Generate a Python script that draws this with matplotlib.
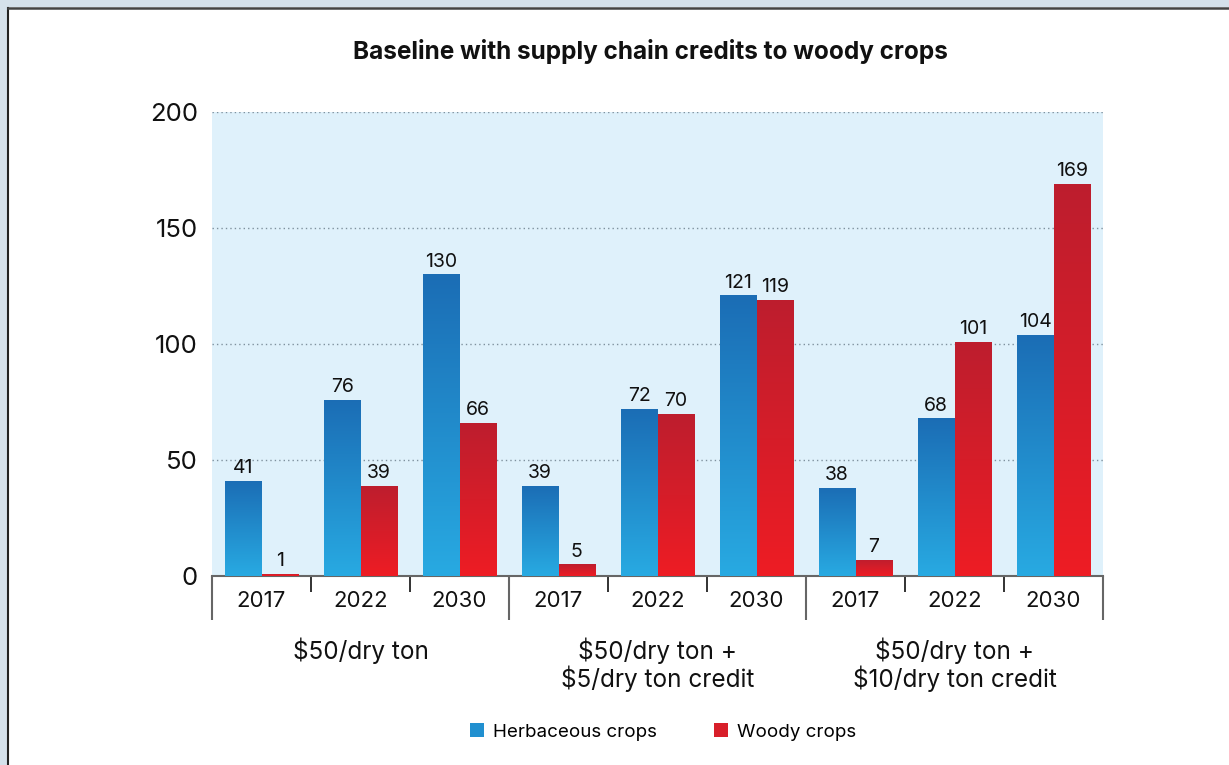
import matplotlib
matplotlib.use("Agg")
import matplotlib.pyplot as plt
import numpy as np
from matplotlib.colors import LinearSegmentedColormap
from matplotlib.patches import Rectangle, Patch
import matplotlib.transforms as mtransforms

plt.rcParams['font.family'] = ['Inter', 'DejaVu Sans']

title = "Baseline with supply chain credits to woody crops"
years = ["2017", "2022", "2030"]
groups = ["$50/dry ton", "$50/dry ton +\n$5/dry ton credit", "$50/dry ton +\n$10/dry ton credit"]
herbaceous = [41, 76, 130, 39, 72, 121, 38, 68, 104]
woody = [1, 39, 66, 5, 70, 119, 7, 101, 169]
series_names = ["Herbaceous crops", "Woody crops"]
yticks = [0, 50, 100, 150, 200]

blue_top, blue_bot = "#1b6db5", "#28aae2"
red_top, red_bot = "#bd1e2e", "#ee1c24"

fig = plt.figure(figsize=(12.29, 7.65), dpi=100)
# outer frame
fig.patches.append(Rectangle((0, 0), 1, 1, transform=fig.transFigure, facecolor="#d5e1eb", edgecolor="none", zorder=-10))
fig.patches.append(Rectangle((7/1229, 0), 1, 1 - 7/765, transform=fig.transFigure, facecolor="white", edgecolor="none", zorder=-9))
fig.lines.append(plt.Line2D([7.5/1229, 7.5/1229], [0, 1 - 7.5/765], transform=fig.transFigure, color="#222222", lw=1.5))
fig.lines.append(plt.Line2D([7.5/1229, 1], [1 - 7.5/765, 1 - 7.5/765], transform=fig.transFigure, color="#444444", lw=1.8))

ax = fig.add_axes([212/1229, 1 - 576/765, (1103 - 212)/1229, (576 - 112)/765])
ax.set_facecolor("#dff1fb")

n = len(herbaceous)
x = np.arange(n)
w = 0.37
off = 0.185

def grad_bars(xs, vals, ctop, cbot):
    bars = ax.bar(xs, vals, width=w, color="none", edgecolor="none", zorder=3)
    cmap = LinearSegmentedColormap.from_list("g", [cbot, ctop])
    grad = np.linspace(0, 1, 256).reshape(-1, 1)
    for b in bars:
        x0, y0 = b.get_x(), b.get_y()
        im = ax.imshow(grad, cmap=cmap, aspect="auto", origin="lower",
                       extent=[x0, x0 + b.get_width(), y0, y0 + b.get_height()], zorder=3)
        im.set_clip_path(b)
    return bars

bh = grad_bars(x - off, herbaceous, blue_top, blue_bot)
bw = grad_bars(x + off, woody, red_top, red_bot)
ax.set_xlim(-0.5, 8.5)
ax.set_ylim(0, 200)
ax.set_aspect("auto")

for bars, vals in ((bh, herbaceous), (bw, woody)):
    for b, v in zip(bars, vals):
        ax.annotate(str(v), (b.get_x() + b.get_width() / 2, b.get_height()),
                    xytext=(0, 2.5), textcoords="offset points", ha="center", va="bottom",
                    fontsize=14, color="#111111", zorder=4)

# grid
ax.set_yticks(yticks)
ax.set_yticklabels([str(t) for t in yticks], fontsize=18.5, color="#111111")
ax.tick_params(axis="y", length=0, pad=10)
ax.yaxis.grid(True, linestyle=(0, (1, 2.2)), color="#7f919e", lw=1)
ax.set_axisbelow(True)
for s in ("top", "right", "left"):
    ax.spines[s].set_visible(False)
ax.spines["bottom"].set_color("#666666")
ax.spines["bottom"].set_linewidth(1.5)

# x ticks
ax.set_xticks([-0.5, 2.5, 5.5, 8.5])
ax.set_xticklabels([])
ax.set_xticks([0.5, 1.5, 3.5, 4.5, 6.5, 7.5], minor=True)
ax.tick_params(axis="x", which="major", length=32, width=1.5, color="#666666")
ax.tick_params(axis="x", which="minor", length=11.5, width=1.3, color="#222222")

trans = mtransforms.blended_transform_factory(ax.transData, ax.transAxes)
for i in range(n):
    ax.annotate(years[i % 3], (x[i], 0), xycoords=trans, xytext=(0, -18),
                textcoords="offset points", ha="center", va="center", fontsize=16, color="#111111")
for g in range(3):
    ax.annotate(groups[g], (3 * g + 1, 0), xycoords=trans, xytext=(0, -44),
                textcoords="offset points", ha="center", va="top", fontsize=17.5,
                color="#111111", linespacing=1.1)

fig.text(650/1229, 1 - 51/765, title, ha="center", va="center", fontsize=17.5,
         fontweight="bold", color="#111111")

handles = [Patch(facecolor="#2190d0", edgecolor="none"), Patch(facecolor="#d81f2a", edgecolor="none")]
fig.legend(handles, series_names, loc="center", bbox_to_anchor=(663/1229, 1 - 732/765),
           ncol=2, frameon=False, fontsize=13.5, handlelength=0.75, handleheight=0.75,
           handletextpad=0.5, columnspacing=3.0)

fig.savefig("out.png", dpi=100)
